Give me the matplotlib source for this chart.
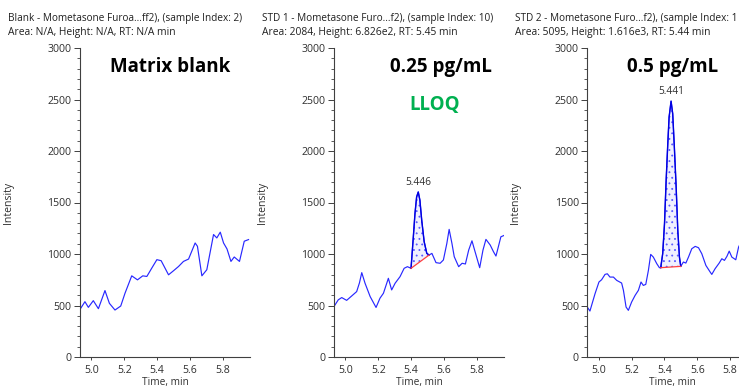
import numpy as np
import matplotlib
matplotlib.use("Agg")
import matplotlib.pyplot as plt
from matplotlib.ticker import MultipleLocator

#%% Data (time in min, intensity in cps)
blank_t = [4.930, 4.960, 4.981, 5.011, 5.042, 5.082, 5.109, 5.143, 5.178, 5.204,
           5.245, 5.280, 5.312, 5.337, 5.367, 5.398, 5.424, 5.469, 5.499, 5.530,
           5.560, 5.591, 5.631, 5.645, 5.672, 5.702, 5.743, 5.763, 5.784, 5.804,
           5.825, 5.849, 5.869, 5.901, 5.930, 5.956]
blank_i = [462, 537, 482, 547, 469, 645, 521, 456, 495, 619,
           788, 749, 788, 782, 863, 945, 935, 798, 837, 879,
           928, 951, 1107, 1075, 788, 847, 1189, 1156, 1212, 1107,
           1049, 928, 971, 928, 1124, 1140]

std1_t = [4.930, 4.956, 4.977, 5.007, 5.038, 5.068, 5.085, 5.099, 5.119, 5.150,
          5.186, 5.210, 5.231, 5.261, 5.281, 5.302, 5.332, 5.357, 5.377, 5.399,
          5.413, 5.423, 5.433, 5.443, 5.453, 5.464, 5.479, 5.495, 5.509, 5.526,
          5.551, 5.576, 5.596, 5.617, 5.631, 5.648, 5.662, 5.689, 5.710, 5.730,
          5.750, 5.770, 5.786, 5.817, 5.837, 5.855, 5.881, 5.901, 5.916, 5.928,
          5.946, 5.965]
std1_i = [490, 555, 577, 550, 593, 635, 720, 819, 716, 587,
          481, 571, 619, 764, 651, 716, 780, 861, 877, 861,
          1167, 1393, 1554, 1602, 1522, 1329, 1119, 1006, 990, 1006,
          916, 910, 942, 1103, 1239, 1103, 974, 877, 910, 903,
          1038, 1128, 1038, 867, 1038, 1142, 1087, 1022, 980, 1054,
          1167, 1180]

std2_t = [4.930, 4.946, 4.977, 5.001, 5.017, 5.038, 5.052, 5.068, 5.089, 5.109,
          5.139, 5.150, 5.166, 5.180, 5.200, 5.221, 5.241, 5.257, 5.271, 5.286,
          5.302, 5.316, 5.332, 5.353, 5.369, 5.377, 5.389, 5.400, 5.410, 5.420,
          5.428, 5.440, 5.450, 5.460, 5.471, 5.481, 5.491, 5.499, 5.515, 5.530,
          5.546, 5.566, 5.587, 5.607, 5.627, 5.652, 5.678, 5.688, 5.708, 5.733,
          5.749, 5.765, 5.780, 5.794, 5.810, 5.834, 5.851, 5.861]
std2_i = [485, 446, 614, 728, 750, 802, 808, 776, 776, 744,
          718, 647, 485, 453, 534, 598, 647, 728, 695, 705,
          841, 996, 970, 906, 867, 867, 1003, 1294, 1714, 2070,
          2329, 2484, 2361, 2038, 1649, 1229, 970, 880, 922, 912,
          970, 1051, 1074, 1061, 1003, 889, 825, 802, 857, 912,
          954, 938, 977, 1028, 970, 944, 1067, 1100]

# integration baselines (start/end time, start/end intensity)
std1_base_t = [5.399, 5.509]
std1_base_i = [861, 990]
std2_base_t = [5.377, 5.499]
std2_base_i = [867, 880]

titles = ["Blank - Mometasone Furoa...ff2), (sample Index: 2)",
          "STD 1 - Mometasone Furo...f2), (sample Index: 10)",
          "STD 2 - Mometasone Furo...f2), (sample Index: 1"]
subtitles = ["Area: N/A, Height: N/A, RT: N/A min",
             "Area: 2084, Height: 6.826e2, RT: 5.45 min",
             "Area: 5095, Height: 1.616e3, RT: 5.44 min"]
big_labels = ["Matrix blank", "0.25 pg/mL", "0.5 pg/mL"]
peak_labels = [None, "5.446", "5.441"]

#%% Layout
W, H = 739, 390
plt.rcParams['font.family'] = ['Open Sans', 'DejaVu Sans']
plt.rcParams['hatch.linewidth'] = 0.6
fig = plt.figure(figsize=(W / 100, H / 100), dpi=100)

lefts = [80, 334, 587.3]
ax_w, ax_top, ax_bot = 170, 48, 357
blue = '#2828ff'
txt = '#303030'

series = [(blank_t, blank_i, None, None),
          (std1_t, std1_i, std1_base_t, std1_base_i),
          (std2_t, std2_i, std2_base_t, std2_base_i)]
big_x = [170, 441, 673]

for k, (t, y, bt, bi) in enumerate(series):
    ax = fig.add_axes([lefts[k] / W, 1 - ax_bot / H, ax_w / W, (ax_bot - ax_top) / H])
    ax.plot(t, y, color=blue, lw=0.85)
    ax.set_xlim(4.93, 5.965)
    ax.set_ylim(0, 3000)
    ax.yaxis.set_major_locator(MultipleLocator(500))
    ax.yaxis.set_minor_locator(MultipleLocator(100))
    ax.xaxis.set_major_locator(MultipleLocator(0.2))
    ax.xaxis.set_major_formatter(matplotlib.ticker.FormatStrFormatter('%.1f'))
    for s in ['top', 'right']:
        ax.spines[s].set_visible(False)
    for s in ['left', 'bottom']:
        ax.spines[s].set_color('#404040')
        ax.spines[s].set_linewidth(0.8)
    ax.tick_params(axis='y', which='major', length=4, width=0.7, pad=2,
                   labelsize=7.6, colors='#404040', labelcolor=txt)
    ax.tick_params(axis='y', which='minor', length=2, width=0.6, colors='#404040')
    ax.tick_params(axis='x', which='major', length=2, width=0.7, pad=4,
                   labelsize=7.6, colors='#404040', labelcolor=txt)
    ax.set_ylabel('Intensity', fontsize=7.6, color=txt)
    ax.yaxis.set_label_coords(-66 / ax_w, 0.5)
    ax.set_xlabel('Time, min', fontsize=7.3, color=txt)
    ax.xaxis.set_label_coords(0.5, -(377 - ax_bot) / (ax_bot - ax_top))

    if bt is not None:
        tt = np.array(t)
        yy = np.array(y)
        m = (tt >= bt[0]) & (tt <= bt[1])
        base = np.interp(tt[m], bt, bi)
        ax.fill_between(tt[m], base, yy[m], facecolor='#f0f0ff', edgecolor='#5a5aff',
                        hatch='...', linewidth=0)
        ax.plot(tt[m], yy[m], color='#0000e0', lw=1.0)
        ax.plot(bt, bi, color='#ff4040', lw=0.9)
        ip = int(np.argmax(yy))
        ax.annotate(peak_labels[k], (tt[ip], yy[ip]), xytext=(0, 3),
                    textcoords='offset points', ha='center', va='bottom',
                    fontsize=7.3, color=txt)

    # header texts
    fig.text((lefts[k] - 72) / W, 1 - 21 / H, titles[k], fontsize=7.2,
             color='#202020', va='baseline', ha='left')
    fig.text((lefts[k] - 72) / W, 1 - 34.5 / H, subtitles[k], fontsize=7.35,
             color='#202020', va='baseline', ha='left')
    fig.text(big_x[k] / W, 1 - 72 / H, big_labels[k], fontsize=13.5,
             fontweight='bold', color='black', ha='center', va='baseline')

fig.text(435 / W, 1 - 110 / H, "LLOQ", fontsize=13.5, fontweight='bold',
         color='#00b050', ha='center', va='baseline')

fig.savefig('out.png', dpi=100)
